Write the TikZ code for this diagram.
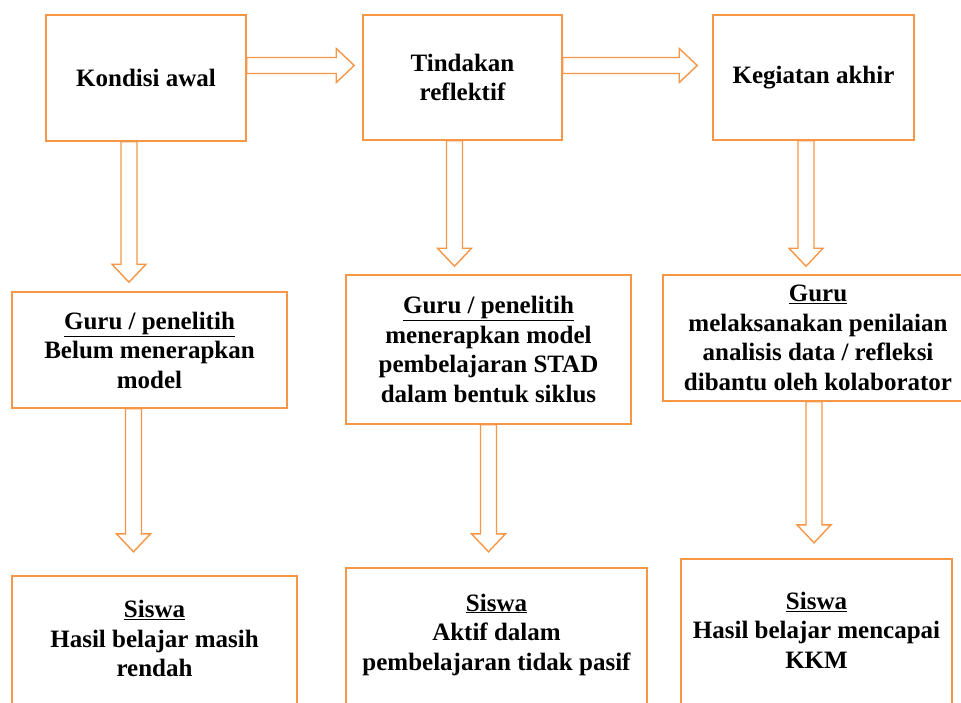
\documentclass[tikz,border=0pt]{standalone}
\usepackage{fontspec}
\setmainfont{Liberation Serif}
\usetikzlibrary{calc}
\definecolor{borange}{HTML}{F79646}
\tikzset{
  boxtext/.style={align=center,inner sep=2pt,
    font=\fontsize{25}{29.5}\selectfont\bfseries},
  box/.style={boxtext,draw=borange,line width=1.5pt},
  openside/.style={draw=borange,line width=1.5pt},
  arrowline/.style={draw=borange,line width=1.4pt,fill=white}
}
% hollow block arrow from #1 to its tip #2
\newcommand{\blockarrow}[2]{%
  \draw[arrowline] let \p1=(#1), \p2=(#2),
    \n1={atan2(\y2-\y1,\x2-\x1)}, \n2={veclen(\x2-\x1,\y2-\y1)-18} in
    ($(\p1)+(\n1+90:8)$) -- ($(\p1)+(\n1:\n2)+(\n1+90:8)$)
    -- ($(\p1)+(\n1:\n2)+(\n1+90:17)$) -- (\p2)
    -- ($(\p1)+(\n1:\n2)+(\n1-90:17)$) -- ($(\p1)+(\n1:\n2)+(\n1-90:8)$)
    -- ($(\p1)+(\n1-90:8)$) -- cycle;}
\begin{document}
\begin{tikzpicture}[x=1pt,y=1pt]
    \useasboundingbox (0,0) rectangle (961,-702);
    \clip (0,0) rectangle (961,-702);
    % top row
    \node[box,minimum width=200,minimum height=126] (kondisi) at (146,-78) {Kondisi awal};
    \node[box,minimum width=199,minimum height=125] (tindakan) at (462.5,-77.5) {Tindakan\\reflektif};
    \node[box,minimum width=201,minimum height=125] (kegiatan) at (813.5,-77.5) {Kegiatan akhir};
    % middle row
    \node[box,minimum width=275,minimum height=116] (guruA) at (149.5,-350)
      {\underline{Guru / penelitih}\\Belum menerapkan\\model};
    \node[box,minimum width=285,minimum height=149] (guruB) at (488.5,-349.5)
      {\underline{Guru / penelitih}\\menerapkan model\\pembelajaran STAD\\dalam bentuk siklus};
    \node[box,minimum width=310,minimum height=126] (guruC) at (818,-338)
      {\underline{Guru}\\melaksanakan penilaian\\analisis data / refleksi\\dibantu oleh kolaborator};
    % bottom row, cut off at the lower edge
    \node[boxtext,minimum width=285,minimum height=125] (siswaA) at (154.5,-638.5)
      {\underline{Siswa}\\Hasil belajar masih\\rendah};
    \node[boxtext,minimum width=301,minimum height=133] (siswaB) at (496.5,-634.5)
      {\underline{Siswa}\\Aktif dalam\\pembelajaran tidak pasif};
    \node[boxtext,minimum width=271,minimum height=142] (siswaC) at (816.5,-630)
      {\underline{Siswa}\\Hasil belajar mencapai\\KKM};
    \foreach \n in {siswaA,siswaB,siswaC}
      \draw[openside] ($(\n.south west)+(0,-10)$) -- (\n.north west)
        -- (\n.north east) -- ($(\n.south east)+(0,-10)$);
    % arrows
    \blockarrow{$(kondisi.east)+(0,12.5)$}{$(tindakan.west)+(-8,12)$}
    \blockarrow{$(tindakan.east)+(0,12)$}{$(kegiatan.west)+(-15,12)$}
    \blockarrow{$(kondisi.south)+(-17,0)$}{$(guruA.north)+(-20.5,9)$}
    \blockarrow{$(guruA.south)+(-16,0)$}{$(siswaA.north)+(-21,24)$}
    \blockarrow{$(tindakan.south)+(-8,0)$}{$(guruB.north)+(-34,8)$}
    \blockarrow{guruB.south}{$(siswaB.north)+(-8,16)$}
    \blockarrow{$(kegiatan.south)+(-7.5,0)$}{$(guruC.north)+(-12,8)$}
    \blockarrow{$(guruC.south)+(-4,0)$}{$(siswaC.north)+(-2.5,16)$}
  \end{tikzpicture}
\end{document}
